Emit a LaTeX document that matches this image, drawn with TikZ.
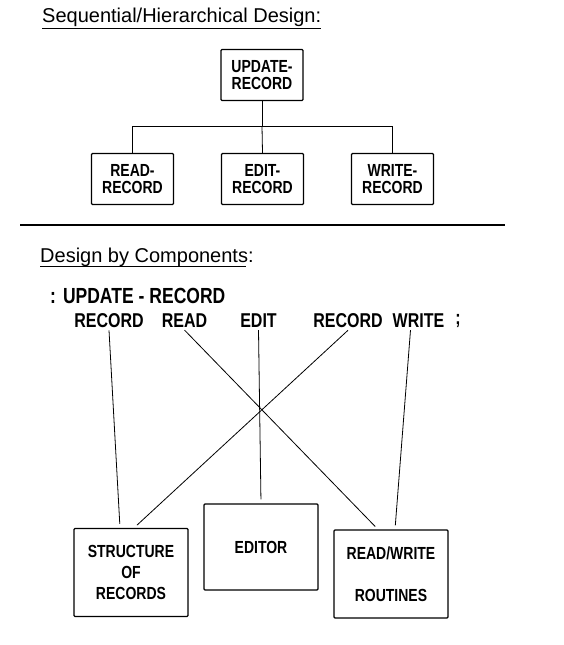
\documentclass[tikz,border=0pt]{standalone}
\usepackage{fontspec}
\setmainfont{Liberation Sans}
\newcommand{\hand}[1]{\scalebox{1}[1.25]{#1}}

\begin{document}
\begin{tikzpicture}[x=1pt, y=-1pt]
\tikzstyle{basic}=[draw, line width=1.2pt, rounded corners=1pt, fill=white]
\tikzstyle{module}=[basic, align=center, inner sep=0pt, minimum width=82pt, minimum height=51pt, font=\bfseries\fontsize{14}{17}\selectfont]
\tikzstyle{component}=[basic, align=center, inner sep=0pt, minimum width=114pt, minimum height=88pt, font=\bfseries\fontsize{14}{21}\selectfont]
\tikzstyle{heading}=[inner sep=0pt, font=\fontsize{20}{24}\selectfont]
\tikzstyle{word}=[inner sep=2pt, font=\bfseries\fontsize{16}{19}\selectfont]
\tikzstyle{edgestyle}=[line width=0.8pt]
\tikzstyle{wire}=[edgestyle, shorten >=4pt]
\tikzstyle{uline}=[line width=0.9pt]
\useasboundingbox (0,0) rectangle (564,645);

% sequential / hierarchical
\node[heading, anchor=base west] (head0) at (42,23) {Sequential/Hierarchical Design:};
\draw[uline] ([yshift=-5pt]head0.base west) -- ([yshift=-5pt]head0.base east);

\node[module] (upd) at (262,75) {\hand{UPDATE-}\\\hand{RECORD}};
\node[module] (rd) at (132.5,179) {\hand{READ-}\\\hand{RECORD}};
\node[module] (ed) at (262.5,179) {\hand{EDIT-}\\\hand{RECORD}};
\node[module] (wr) at (392.5,179) {\hand{WRITE-}\\\hand{RECORD}};
\coordinate (bus) at (262,126);
\draw (upd) edge[edgestyle] (bus);
\draw[edgestyle] (bus) -| (rd.north);
\draw[edgestyle] (bus) -| (wr.north);
\draw (bus) edge[edgestyle] (ed.north);

\draw[line width=1.4pt] (20,225) -- (505,225);

% components
\node[heading, anchor=base west] (head1) at (40,262) {Design by Components:};
\draw[uline] ([yshift=-4pt]head1.base west) -- ([yshift=-4pt, xshift=-8pt]head1.base east);

\node[word, anchor=west, font=\bfseries\fontsize{17.5}{20}\selectfont] (def) at (48,296) {\hand{:\hspace{7pt}UPDATE\hspace{5pt}-\hspace{5pt}RECORD}};
\node[word] (rec0) at (109,321) {\hand{RECORD}};
\node[word] (read) at (184.5,321) {\hand{READ}};
\node[word] (edit) at (258.5,321) {\hand{EDIT}};
\node[word] (rec1) at (348,321) {\hand{RECORD}};
\node[word] (write) at (418.5,321) {\hand{WRITE}};
\node[word] (semi) at (458,321) {\hand{;}};

\node[component] (struct) at (131,572.5) {\hand{STRUCTURE}\\\hand{OF}\\\hand{RECORDS}};
\node[component, minimum height=86pt] (editor) at (261,547) {\hand{EDITOR}};
\node[component] (rw) at (391,574) {\hand{READ/WRITE}\\[21pt]\hand{ROUTINES}};

\draw[wire] (rec0.south) -- ([xshift=-11pt]struct.north);
\draw[wire] (rec1.south) -- ([xshift=3pt]struct.north);
\draw[wire] (edit.south) -- (editor.north);
\draw[wire] (read.south) -- ([xshift=-13pt]rw.north);
\draw[wire] ([xshift=-8pt]write.south) -- ([xshift=4pt]rw.north);
\end{tikzpicture}
\end{document}
